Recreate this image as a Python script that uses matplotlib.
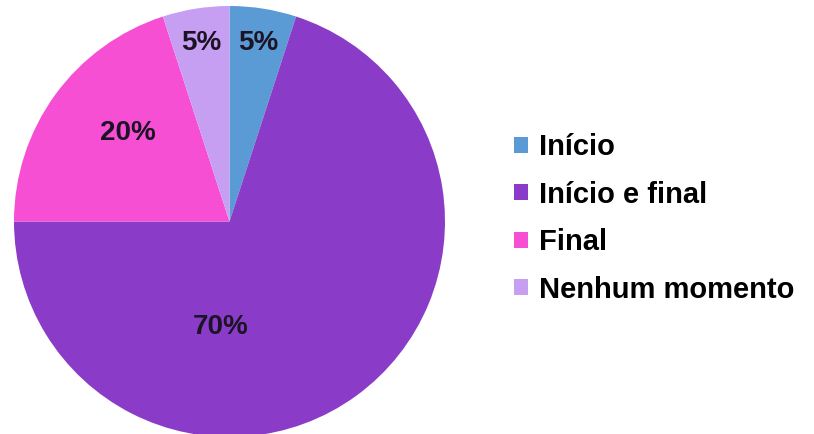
import matplotlib.pyplot as plt
from matplotlib.patches import Patch

# Dados do gráfico
categorias = ["Início", "Início e final", "Final", "Nenhum momento"]
percentuais = [5, 70, 20, 5]
cores = ["#5b9bd5", "#8a3cc8", "#f64fd4", "#c79ff2"]

plt.rcParams['font.family'] = ['Liberation Sans', 'DejaVu Sans']

fig = plt.figure(figsize=(8.14, 4.34), dpi=100)
ax = fig.add_axes([14 / 814, -3 / 434, 431 / 814, 431 / 434])

wedges, textos, rotulos = ax.pie(
    percentuais, colors=cores, startangle=90, counterclock=False,
    radius=1.0, labels=None, autopct=lambda p: f"{p:.0f}%",
    pctdistance=0.84,
    textprops=dict(fontsize=20, fontweight='bold', color='#1c1424'),
    wedgeprops=dict(linewidth=0),
)

# Ajuste das posições dos rótulos maiores
rotulos[2].set_position((-0.47, 0.41))
rotulos[1].set_position((-0.04, -0.49))

ax.set_xlim(-1.0, 1.0)
ax.set_ylim(-1.0, 1.0)

handles = [Patch(facecolor=c, edgecolor='none') for c in cores]
fig.legend(handles, categorias, loc='center left',
           bbox_to_anchor=(514 / 814, 0.497), frameon=False,
           prop=dict(size=21, weight='bold'),
           handlelength=0.47, handleheight=0.47, handletextpad=0.38,
           labelspacing=0.67, borderpad=0, borderaxespad=0)

fig.savefig("out.png", dpi=100)
